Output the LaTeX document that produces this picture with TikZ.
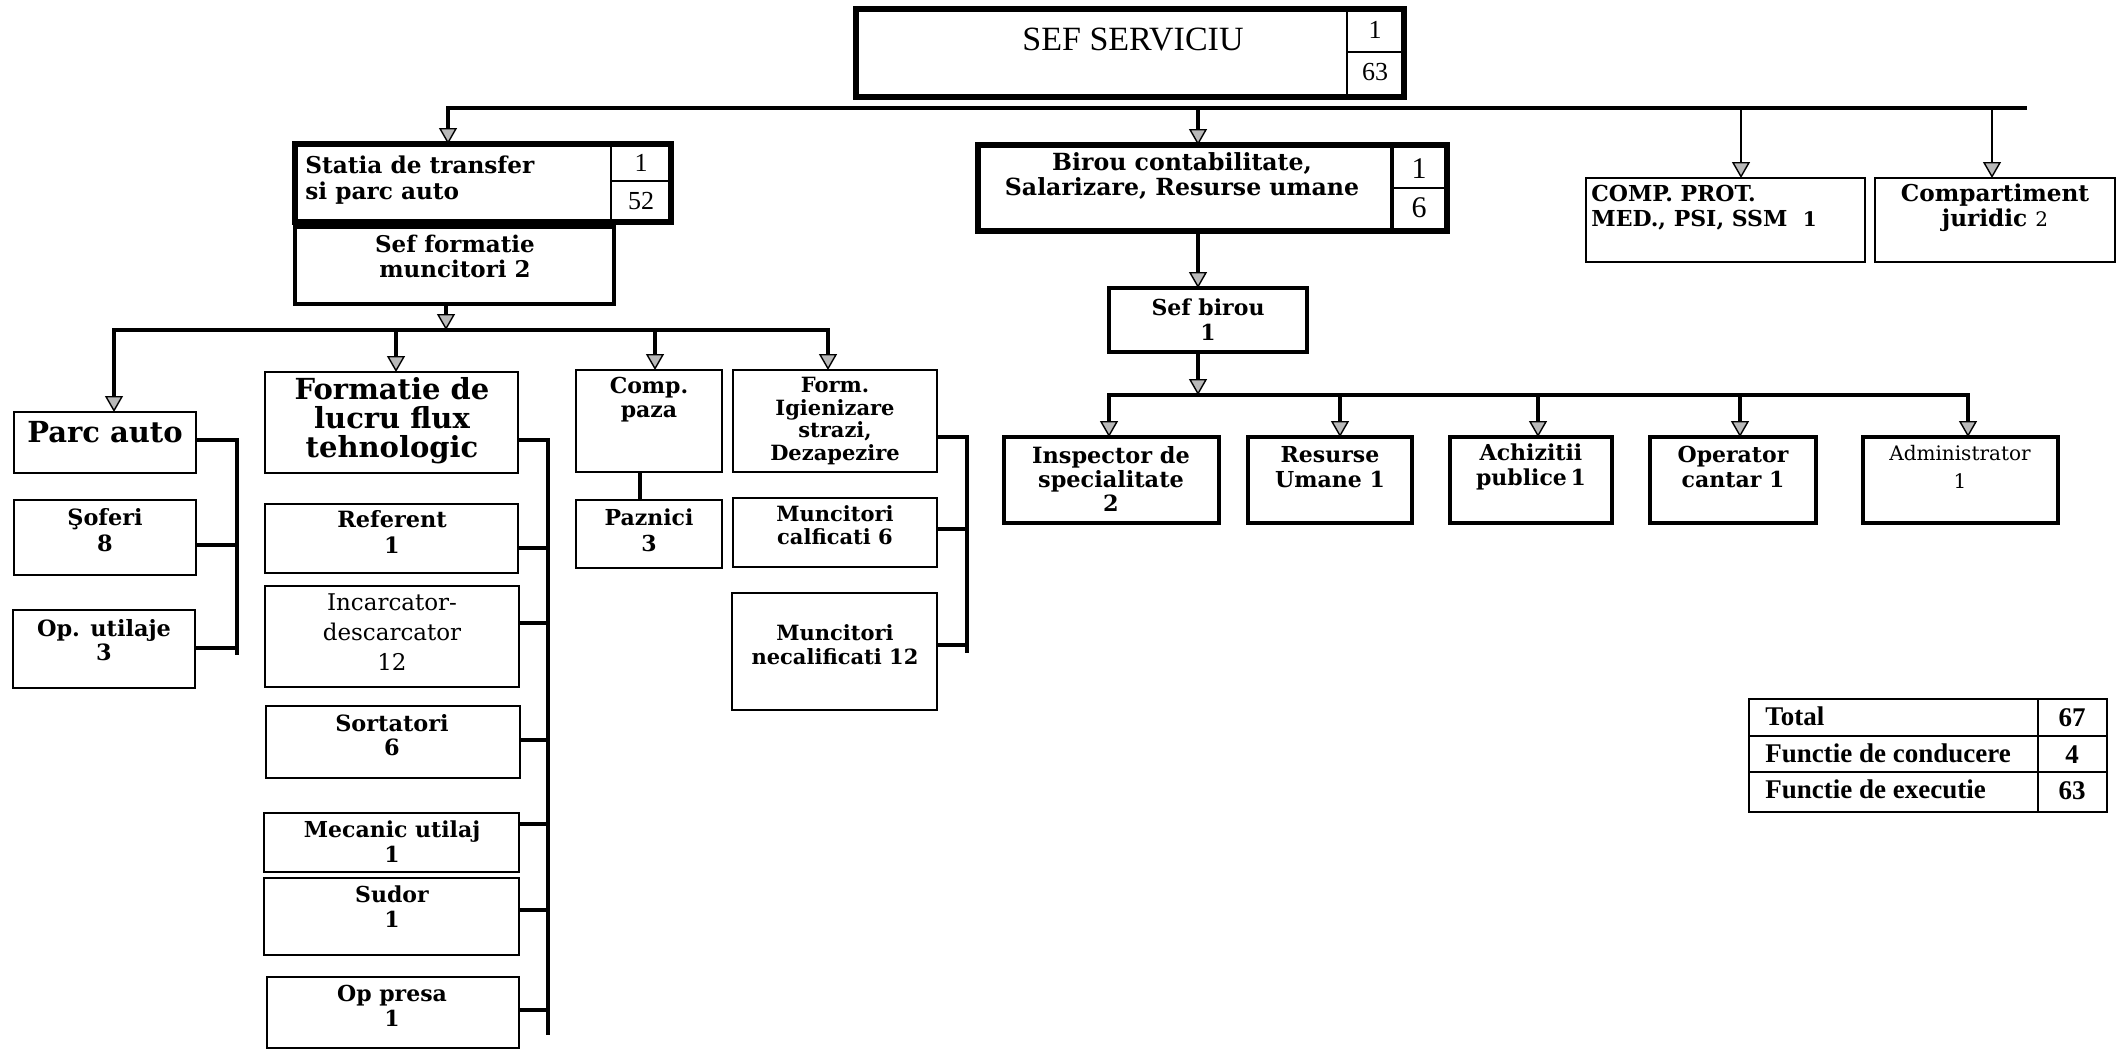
\documentclass[tikz,border=0pt]{standalone}
\usepackage{fontspec}
\setmainfont{DejaVu Serif}
\newfontfamily\timesf{Liberation Serif}
\usetikzlibrary{arrows.meta}
\tikzset{
  box/.style={draw=black, line width=1.3pt, rectangle, inner sep=0pt, outer sep=0pt},
  heavybox/.style={box, line width=3pt},
  midbox/.style={box, line width=1.8pt},
  thinbox/.style={box, line width=0.9pt},
  txt/.style={font=\bfseries\fontsize{11}{12.5}\selectfont, align=center, inner sep=0pt},
  bigtxt/.style={txt, font=\bfseries\fontsize{14.5}{14.5}\selectfont},
  regtxt/.style={txt, font=\fontsize{11}{15}\selectfont},
  num/.style={font=\timesf\fontsize{13}{15}\selectfont, inner sep=0pt},
  tabtxt/.style={font=\timesf\bfseries\fontsize{13.5}{15}\selectfont, inner sep=0pt},
  tip/.tip={Triangle[width=9pt,length=8pt,fill=gray!55,line width=0.7pt]},
  arr/.style={line width=2.1pt, -tip},
  tarr/.style={line width=0.8pt, -tip},
  bus/.style={line width=2.2pt},
  brk/.style={line width=1.9pt},
  divl/.style={line width=0.8pt},
}
\newcommand\bx[6][]{\node[box,#1,minimum width={(#5-#3)*0.5pt},minimum height={(#6-#4)*0.5pt}] (#2) at ({(#3+#5)/2},{(#4+#6)/2}) {};}
\begin{document}
\begin{tikzpicture}[x=0.5pt,y=-0.5pt]
\useasboundingbox (0,0) rectangle (2121,1049);
% ---------- boxes ----------
\bx[heavybox]{sef}{856}{9}{1404}{97}
\bx[heavybox]{statia}{295}{144}{671}{222}
\bx[midbox]{sefform}{295}{227}{614}{304}
\bx[heavybox]{birou}{978}{145}{1447}{231}
\bx[box]{comp}{1586}{178}{1865}{262}
\bx[box]{jur}{1875}{178}{2115}{262}
\bx[midbox]{sefb}{1109}{288}{1307}{352}
\bx[midbox]{insp}{1004}{437}{1219}{523}
\bx[midbox]{resu}{1248}{437}{1412}{523}
\bx[midbox]{achi}{1450}{437}{1612}{523}
\bx[midbox]{oper}{1650}{437}{1816}{523}
\bx[midbox]{admin}{1863}{437}{2058}{523}
\bx[box]{parc}{14}{412}{196}{473}
\bx[box]{sofer}{14}{500}{196}{575}
\bx[box]{oputil}{13}{610}{195}{688}
\bx[box]{formatie}{265}{372}{518}{473}
\bx[box]{refer}{265}{504}{518}{573}
\bx[box]{incarc}{265}{586}{519}{687}
\bx[box]{sortat}{266}{706}{520}{778}
\bx[box]{mecanic}{264}{813}{519}{872}
\bx[box]{sudor}{264}{878}{519}{955}
\bx[box]{oppresa}{267}{977}{519}{1048}
\bx[box]{cpaza}{576}{370}{722}{472}
\bx[box]{paznici}{576}{500}{722}{568}
\bx[box]{form}{733}{370}{937}{472}
\bx[box]{mcalif}{733}{498}{937}{567}
\bx[box]{mnecal}{732}{593}{937}{710}
\bx[thinbox]{tab}{1749}{699}{2107}{812}
% ---------- cell dividers ----------
\coordinate (sefdiv) at (1347,52);
\draw[divl] (sefdiv |- sef.north) -- (sefdiv |- sef.south);
\draw[divl] (sefdiv) -- (sefdiv -| sef.east);
\coordinate (stdiv) at (611,181);
\draw[divl] (stdiv |- statia.north) -- (stdiv |- statia.south);
\draw[divl] (stdiv) -- (stdiv -| statia.east);
\coordinate (bidiv) at (1392,188);
\draw[line width=1.8pt] (bidiv |- birou.north) -- (bidiv |- birou.south);
\draw[divl] (bidiv) -- (bidiv -| birou.east);
\coordinate (tdiv) at (2038,736);
\coordinate (trow) at (2038,772);
\draw[divl] (tdiv |- tab.north) -- (tdiv |- tab.south);
\draw[divl] (tdiv -| tab.west) -- (tdiv -| tab.east);
\draw[divl] (trow -| tab.west) -- (trow -| tab.east);
% ---------- texts ----------
\node[num, font=\timesf\fontsize{17}{19}\selectfont] (tsef) at (1133,40) {SEF SERVICIU};
\node[num] (tsef1) at (1375,30) {1};
\node[num] (tsef2) at (1375,72) {63};
\node[txt, anchor=west, align=left, font=\bfseries\fontsize{11.6}{12.8}\selectfont] (tstatia) at (305,180) {Statia de transfer\\si parc auto};
\node[num] (tst1) at (641,163) {1};
\node[num] (tst2) at (641,201) {52};
\node[txt, font=\bfseries\fontsize{11.5}{12.5}\selectfont] (tsefform) at (455,256) {Sef formatie\\muncitori 2};
\node[txt, font=\bfseries\fontsize{11.8}{12.8}\selectfont] (tbirou) at (1182,176) {Birou contabilitate,\\Salarizare, Resurse umane};
\node[num, font=\timesf\fontsize{15}{17}\selectfont] (tbi1) at (1419,169) {1};
\node[num, font=\timesf\fontsize{15}{17}\selectfont] (tbi2) at (1419,208) {6};
\node[txt, anchor=west, align=left] (tcomp) at (1591,208) {COMP. PROT.\\MED., PSI, SSM\ \ {\fontsize{10}{12}\selectfont 1}};
\node[txt, font=\bfseries\fontsize{11.6}{12.5}\selectfont] (tjur) at (1995,208) {Compartiment\\juridic {\mdseries\fontsize{10}{12}\selectfont 2}};
\node[txt] (tsefb) at (1208,320) {Sef birou\\1};
\node[txt, font=\bfseries\fontsize{11.2}{11.8}\selectfont] (tinsp) at (1111,479) {Inspector de\\specialitate\\2};
\node[txt] (tresu) at (1330,467) {Resurse\\Umane 1};
\node[txt] (tachi) at (1531,467) {Achizitii\\publice\,1};
\node[txt] (toper) at (1733,467) {Operator\\cantar 1};
\node[txt, font=\fontsize{10}{14}\selectfont] (tadmin) at (1960,467) {Administrator\\1};
\node[bigtxt] (tparc) at (105,432) {Parc auto};
\node[txt, font=\bfseries\fontsize{11.2}{13}\selectfont] (tsofer) at (105,530) {Şoferi\\8};
\node[txt, font=\bfseries\fontsize{11.2}{12}\selectfont] (toputil) at (104,640) {Op. utilaje\\3};
\node[bigtxt] (tformatie) at (392,421) {Formatie de\\lucru flux\\tehnologic};
\node[txt, font=\bfseries\fontsize{11.2}{13}\selectfont] (trefer) at (392,532) {Referent\\1};
\node[regtxt, font=\fontsize{11.5}{15}\selectfont] (tincarc) at (392,632) {Incarcator-\\descarcator\\12};
\node[txt, font=\bfseries\fontsize{11.2}{12}\selectfont] (tsortat) at (392,735) {Sortatori\\6};
\node[txt] (tmecanic) at (392,842) {Mecanic utilaj\\1};
\node[txt] (tsudor) at (392,907) {Sudor\\1};
\node[txt] (toppresa) at (392,1006) {Op presa\\1};
\node[txt, font=\bfseries\fontsize{11}{12}\selectfont] (tcpaza) at (649,400) {Comp.\\paza};
\node[txt, font=\bfseries\fontsize{11}{13}\selectfont] (tpaznici) at (649,530) {Paznici\\3};
\node[txt, font=\bfseries\fontsize{10.5}{11.3}\selectfont] (tform) at (835,421) {Form.\\Igienizare\\strazi,\\Dezapezire};
\node[txt, font=\bfseries\fontsize{10.5}{11.5}\selectfont] (tmcalif) at (835,525) {Muncitori\\calficati 6};
\node[txt, font=\bfseries\fontsize{10.5}{12}\selectfont] (tmnecal) at (835,645) {Muncitori\\necalificati 12};
\node[tabtxt, anchor=west] (tt1) at (1765,716) {Total};
\node[tabtxt, anchor=west] (tt2) at (1765,753) {Functie de conducere};
\node[tabtxt, anchor=west] (tt3) at (1765,789) {Functie de executie};
\node[tabtxt] (tn1) at (2072,718) {67};
\node[tabtxt] (tn2) at (2072,755) {4};
\node[tabtxt] (tn3) at (2072,791) {63};
% ---------- top bus ----------
\coordinate (tbL) at (448,108);
\coordinate (tbB) at (1198,108);
\coordinate (tbC) at (1741,108);
\coordinate (tbJ) at (1992,108);
\coordinate (tbR) at (2027,108);
\draw[arr] (tbR) -- (tbL) -- (tbL |- statia.north);
\draw[arr] (tbB) -- (tbB |- birou.north);
\draw[tarr] (tbC) -- (tbC |- comp.north);
\draw[tarr] (tbJ) -- (tbJ |- jur.north);
% ---------- left bus ----------
\coordinate (lbM) at (446,330);
\coordinate (lbL) at (114,330);
\coordinate (lbF) at (396,330);
\coordinate (lbP) at (655,330);
\coordinate (lbR) at (828,330);
\draw[arr] (lbM |- sefform.south) -- (lbM);
\draw[arr] (lbM) -- (lbL) -- (lbL |- parc.north);
\draw[arr] (lbM) -- (lbR) -- (lbR |- form.north);
\draw[arr] (lbF) -- (lbF |- formatie.north);
\draw[arr] (lbP) -- (lbP |- cpaza.north);
\draw[line width=2.2pt] ([xshift=-4.5pt]cpaza.south) -- ([xshift=-4.5pt]paznici.north);
% ---------- brackets ----------
\coordinate (bk1) at (237,440);
\coordinate (bk1a) at (237,545);
\coordinate (bk1b) at (237,648);
\coordinate (bk1e) at (237,655);
\draw[brk] (parc.east |- bk1) -- (bk1) -- (bk1e);
\draw[brk] (sofer.east |- bk1a) -- (bk1a);
\draw[brk] (oputil.east |- bk1b) -- (bk1b);
\coordinate (bk2) at (548,440);
\coordinate (bk2a) at (548,548);
\coordinate (bk2b) at (548,623);
\coordinate (bk2c) at (548,740);
\coordinate (bk2d) at (548,824);
\coordinate (bk2f) at (548,910);
\coordinate (bk2g) at (548,1010);
\coordinate (bk2e) at (548,1035);
\draw[brk] (formatie.east |- bk2) -- (bk2) -- (bk2e);
\draw[brk] (refer.east |- bk2a) -- (bk2a);
\draw[brk] (incarc.east |- bk2b) -- (bk2b);
\draw[brk] (sortat.east |- bk2c) -- (bk2c);
\draw[brk] (mecanic.east |- bk2d) -- (bk2d);
\draw[brk] (sudor.east |- bk2f) -- (bk2f);
\draw[brk] (oppresa.east |- bk2g) -- (bk2g);
\coordinate (bk3) at (967,437);
\coordinate (bk3a) at (967,529);
\coordinate (bk3b) at (967,645);
\coordinate (bk3e) at (967,653);
\draw[brk] (form.east |- bk3) -- (bk3) -- (bk3e);
\draw[brk] (mcalif.east |- bk3a) -- (bk3a);
\draw[brk] (mnecal.east |- bk3b) -- (bk3b);
% ---------- right part ----------
\draw[arr] ([xshift=-7.25pt]birou.south) -- ([xshift=-7.25pt]birou.south |- sefb.north);
\coordinate (rbM) at (1198,395);
\coordinate (rbL) at (1109,395);
\coordinate (rb2) at (1340,395);
\coordinate (rb3) at (1538,395);
\coordinate (rb4) at (1740,395);
\coordinate (rbR) at (1968,395);
\draw[arr] (rbM |- sefb.south) -- (rbM);
\draw[arr] (rbM) -- (rbL) -- (rbL |- insp.north);
\draw[arr] (rbM) -- (rbR) -- (rbR |- admin.north);
\draw[arr] (rb2) -- (rb2 |- resu.north);
\draw[arr] (rb3) -- (rb3 |- achi.north);
\draw[arr] (rb4) -- (rb4 |- oper.north);
\end{tikzpicture}
\end{document}
